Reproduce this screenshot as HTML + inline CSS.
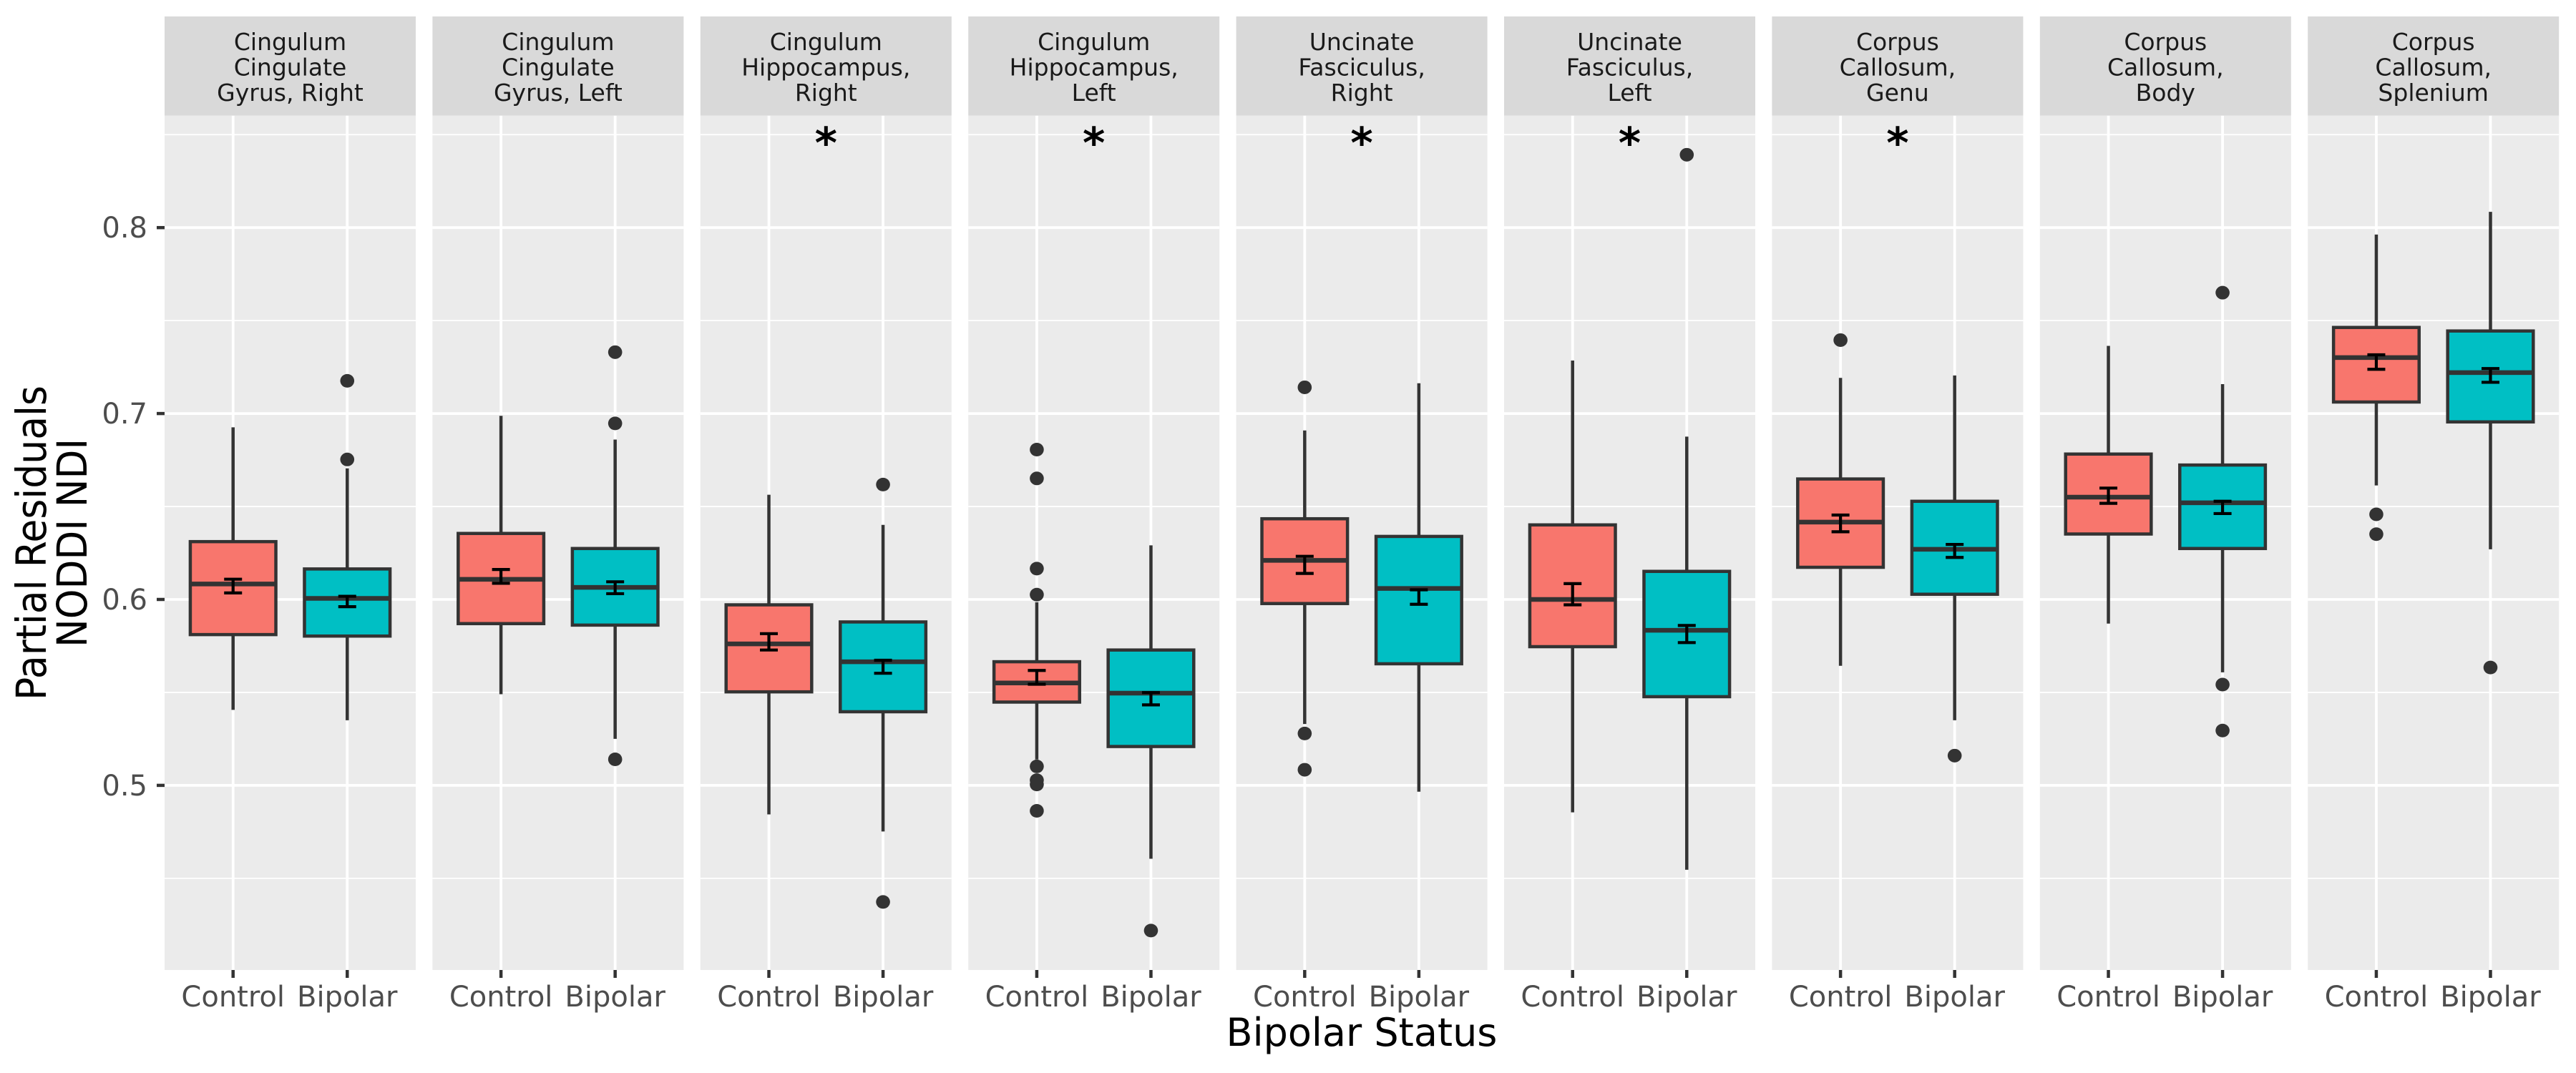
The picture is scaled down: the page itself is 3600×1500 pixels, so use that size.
<!DOCTYPE html>
<html><head><meta charset="utf-8">
<style>
html,body{margin:0;padding:0;background:#fff;}
svg{display:block;}
text{font-family:"DejaVu Sans","Liberation Sans",sans-serif;}
</style></head>
<body>
<svg id="chart" width="3600" height="1500" viewBox="0 0 3600 1500" xmlns="http://www.w3.org/2000/svg">
<rect x="0" y="0" width="3600" height="1500" fill="#fff"/>
<text x="1903" y="1462" font-size="54" text-anchor="middle" fill="#000">Bipolar Status</text>
<g transform="translate(0,759) rotate(-90)">
<text x="0" y="64" font-size="58" text-anchor="middle" fill="#000" textLength="440" lengthAdjust="spacingAndGlyphs" font-family="Liberation Sans, sans-serif">Partial Residuals</text>
<text x="0" y="121" font-size="58" text-anchor="middle" fill="#000" textLength="292" lengthAdjust="spacingAndGlyphs" font-family="Liberation Sans, sans-serif">NODDI NDI</text>
</g>
</svg>
<script>
const panelTitles = [
 ["Cingulum","Cingulate","Gyrus, Right"],
 ["Cingulum","Cingulate","Gyrus, Left"],
 ["Cingulum","Hippocampus,","Right"],
 ["Cingulum","Hippocampus,","Left"],
 ["Uncinate","Fasciculus,","Right"],
 ["Uncinate","Fasciculus,","Left"],
 ["Corpus","Callosum,","Genu"],
 ["Corpus","Callosum,","Body"],
 ["Corpus","Callosum,","Splenium"]
];
const groups = ["Control","Bipolar"];
const significant = [false,false,true,true,true,true,true,false,false];
const yTicks = [0.5,0.6,0.7,0.8];
const yTickLabels = ["0.5","0.6","0.7","0.8"];
const yMinor = [0.45,0.55,0.65,0.75,0.85];
// per panel: [control, bipolar]
const whiskerLow = [[0.5406,0.535],[0.549,0.525],[0.4844,0.4752],[0.5139,0.4605],[0.533,0.4966],[0.4855,0.4546],[0.5643,0.535],[0.587,0.5608],[0.6613,0.627]];
const q1 = [[0.5811,0.5803],[0.587,0.5862],[0.5503,0.5396],[0.5448,0.5209],[0.5978,0.5654],[0.5746,0.5477],[0.6173,0.6028],[0.6352,0.6274],[0.7062,0.6955]];
const medians = [[0.6083,0.6006],[0.6108,0.6065],[0.5761,0.5665],[0.5551,0.5496],[0.621,0.6059],[0.6,0.5834],[0.6416,0.627],[0.655,0.652],[0.7301,0.722]];
const q3 = [[0.6311,0.6164],[0.6355,0.6274],[0.5971,0.5879],[0.5665,0.5728],[0.6434,0.6339],[0.6401,0.6151],[0.6648,0.6528],[0.6782,0.6723],[0.7463,0.7444]];
const whiskerHigh = [[0.6926,0.6705],[0.6988,0.686],[0.6563,0.6401],[0.5985,0.6291],[0.6909,0.7163],[0.7285,0.6876],[0.7192,0.7205],[0.7364,0.7158],[0.7963,0.8085]];
const means = [[0.6072,0.5989],[0.6124,0.6063],[0.5772,0.5638],[0.5581,0.5466],[0.6186,0.6013],[0.6028,0.5814],[0.6409,0.6261],[0.6558,0.6495],[0.7277,0.7205]];
const se = [[0.0037,0.0028],[0.0037,0.0032],[0.0044,0.0035],[0.0037,0.0033],[0.0046,0.0039],[0.0057,0.0046],[0.0045,0.0035],[0.0041,0.0033],[0.0039,0.0037]];
const outliers = [
 [[],[0.7176,0.6753]],
 [[],[0.733,0.6947,0.514]],
 [[],[0.6618,0.4373]],
 [[0.6806,0.6651,0.6166,0.6026,0.5102,0.5028,0.5005,0.4863],[0.4219]],
 [[0.7141,0.5279,0.5084],[]],
 [[],[0.8392]],
 [[0.7395],[0.516]],
 [[],[0.765,0.5542,0.5295]],
 [[0.6458,0.6351],[0.5634]]
];

const NS="http://www.w3.org/2000/svg";
const svg=document.getElementById('chart');
const P0=230, PW=351, PITCH=374.4, TOP=161.7, BOT=1356, STRIPTOP=23;
const Y0=0.6, YPX=838, YSCALE=2599;
function yS(v){return YPX-(v-Y0)*YSCALE;}
function xS(i){return (i+1-0.4)/2.2*PW;}
const fills=["#F8766D","#00BFC4"];
function mk(tag,attrs,parent){const e=document.createElementNS(NS,tag);for(const k in attrs)e.setAttribute(k,attrs[k]);(parent||svg).appendChild(e);return e;}

// y-axis ticks & labels
yTicks.forEach((v,i)=>{
 const t=mk('text',{x:206,y:yS(v)+14,'font-size':40,'text-anchor':'end',fill:'#4D4D4D'});
 
 
 t.textContent=yTickLabels[i];
 const l=mk('line',{x1:219,x2:230,y1:yS(v),y2:yS(v),stroke:'#333',"stroke-width":4.5});
 
 
});

panelTitles.forEach((title,p)=>{
 const px=P0+p*PITCH;
 const g=mk('g',{transform:`translate(${px},0)`});
 
 
 const strip=mk('rect',{x:0,y:STRIPTOP,width:PW,height:TOP-STRIPTOP,fill:'#D9D9D9'},g);
 
 
 title.forEach((ln,k)=>{
  const t=mk('text',{x:PW/2,y:70+k*35.5,'font-size':33,'text-anchor':'middle',fill:'#1A1A1A'},g);
  
  
  t.textContent=ln;
 });
 const bg=mk('rect',{x:0,y:TOP,width:PW,height:BOT-TOP,fill:'#EBEBEB'},g);
 
 
 yMinor.forEach(v=>{const l=mk('line',{x1:0,x2:PW,y1:yS(v),y2:yS(v),stroke:'#fff','stroke-width':1.8},g);
  
  });
 yTicks.forEach(v=>{const l=mk('line',{x1:0,x2:PW,y1:yS(v),y2:yS(v),stroke:'#fff','stroke-width':3.8},g);
  
  });
 groups.forEach((gname,i)=>{const l=mk('line',{x1:xS(i),x2:xS(i),y1:TOP,y2:BOT,stroke:'#fff','stroke-width':3.8},g);
  
  });
 groups.forEach((gname,i)=>{
  const cx=xS(i), hw=59.8;
  const wk=mk('line',{x1:cx,x2:cx,y1:yS(whiskerHigh[p][i]),y2:yS(whiskerLow[p][i]),stroke:'#333','stroke-width':4.5},g);
  
  
  const bx=mk('rect',{x:cx-hw,y:yS(q3[p][i]),width:2*hw,height:yS(q1[p][i])-yS(q3[p][i]),fill:fills[i],stroke:'#333','stroke-width':4.5},g);
  
  
  const md=mk('line',{x1:cx-hw,x2:cx+hw,y1:yS(medians[p][i]),y2:yS(medians[p][i]),stroke:'#333','stroke-width':6.5},g);
  
  
  outliers[p][i].forEach(v=>{const c=mk('ellipse',{cx:cx,cy:yS(v),rx:9.8,ry:9.5,fill:'#333'},g);
   
   });
  const hi=yS(means[p][i]+se[p][i]), lo=yS(means[p][i]-se[p][i]);
  const eb=mk('path',{d:`M${cx-12.5},${hi}H${cx+12.5}M${cx},${hi}V${lo}M${cx-12.5},${lo}H${cx+12.5}`,stroke:'#000','stroke-width':4.2,fill:'none'},g);
  
  
  const tk=mk('line',{x1:cx,x2:cx,y1:BOT,y2:BOT+11,stroke:'#333','stroke-width':4.5},g);
  
  
  const tl=mk('text',{x:cx,y:1407,'font-size':40,'text-anchor':'middle',fill:'#4D4D4D'},g);
  
  
  tl.textContent=gname;
 });
 if(significant[p]){
  const s=mk('text',{x:PW/2,y:yS(0.85)+32,'font-size':60,'font-weight':'bold','text-anchor':'middle',fill:'#000'},g);
  
  
  s.textContent='*';
 }
});
</script>
</body></html>
